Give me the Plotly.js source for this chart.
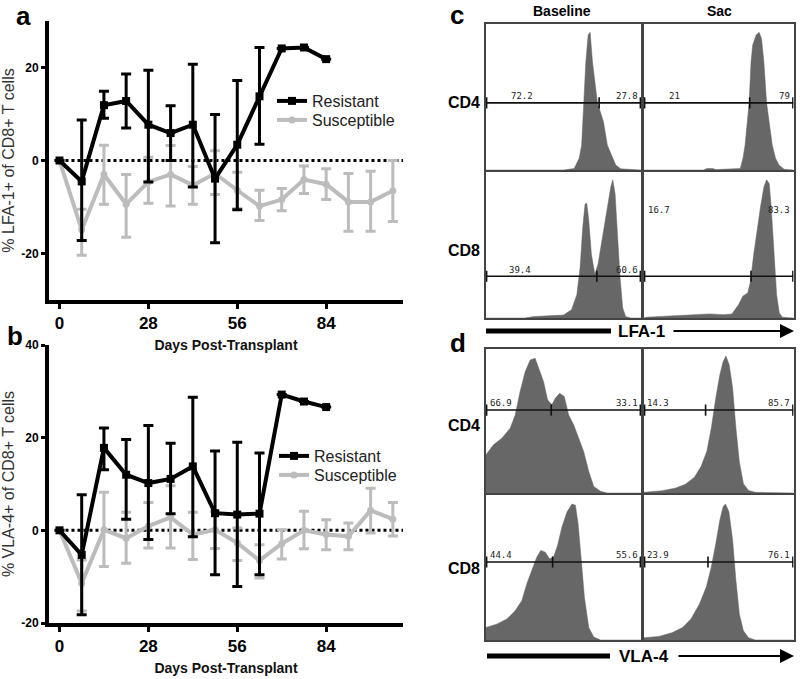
<!DOCTYPE html>
<html>
<head>
<meta charset="utf-8">
<script src="https://cdn.plot.ly/plotly-3.0.1.min.js"></script>
<style>html,body{margin:0;padding:0;background:#fff}#chart{width:800px;height:679px}</style>
</head>
<body>
<div id="chart"></div>
<script>
// ---------------- data: panels a and b ----------------
const daysAll = [0, 7, 14, 21, 28, 35, 42, 49, 56, 63, 70, 77, 84, 91, 98, 105];
const daysRes = [0, 7, 14, 21, 28, 35, 42, 49, 56, 63, 70, 77, 84];
const xTicks = [0, 28, 56, 84];

const lfaResMean = [0, -4.5, 11.9, 12.8, 7.7, 5.9, 7.7, -3.9, 3.4, 13.8, 24.1, 24.3, 21.8];
const lfaResErrPlus = [0, 13.2, 3.0, 5.8, 11.7, 5.9, 13.0, 13.8, 13.8, 10.5, 0, 0, 0];
const lfaResErrMinus = [0, 12.7, 2.8, 5.8, 12.3, 5.9, 13.4, 13.8, 14.0, 10.3, 0, 0, 0];
const lfaSusMean = [0, -14.9, -3.0, -9.4, -4.6, -3.0, -5.3, -2.8, -6.4, -9.8, -8.4, -4.1, -5.1, -8.9, -8.9, -6.5];
const lfaSusErrPlus = [0, 4.4, 6.3, 6.4, 5.3, 6.2, 4.0, 4.9, 3.9, 3.4, 2.4, 2.9, 3.3, 6.1, 6.6, 6.5];
const lfaSusErrMinus = [0, 5.5, 6.4, 7.1, 4.6, 6.8, 4.1, 4.5, 3.9, 3.1, 2.4, 3.0, 3.3, 6.3, 6.3, 6.6];

const vlaResMean = [0, -5.3, 17.8, 12.0, 10.2, 11.1, 13.8, 3.7, 3.4, 3.6, 29.3, 27.8, 26.6];
const vlaResErrPlus = [0, 13.0, 4.3, 7.6, 12.4, 7.7, 14.9, 13.4, 15.6, 13.1, 0, 0, 0];
const vlaResErrMinus = [0, 12.9, 4.7, 9.6, 12.2, 7.5, 15.2, 13.3, 15.5, 13.2, 0, 0, 0];
const vlaSusMean = [0, -11.4, 0.1, -1.7, 0.9, 2.8, -0.9, 0.1, -2.7, -6.5, -2.9, 0, -0.9, -1.3, 4.3, 2.4];
const vlaSusErrPlus = [0, 5.0, 8.1, 5.6, 5.1, 6.8, 4.8, 4.0, 3.2, 3.4, 3.0, 4.1, 3.2, 2.9, 4.8, 3.6];
const vlaSusErrMinus = [0, 6.0, 7.9, 5.4, 4.7, 6.6, 5.4, 4.0, 3.8, 3.8, 3.3, 4.0, 3.3, 2.9, 4.9, 3.6];

// ---------------- data: panels c and d (histograms, % of channel / % of max) ----------------
const lfaCd4BaseX = [0, 50, 56.9, 60.1, 61.7, 63.3, 64.4, 65.9, 67.2, 68.7, 70.4, 71.9, 75.8, 78.3, 83.7, 86.9, 100];
const lfaCd4BaseY = [0, 0, 1, 8, 17, 46, 74, 92.5, 94.3, 74, 58, 46, 33, 17, 3.4, 0.8, 0];
const lfaCd4SacX = [0, 40, 42, 46, 48, 64.4, 66.2, 67.6, 70.3, 71.6, 72.7, 75, 77, 78.6, 80.2, 82, 85.8, 88, 90.3, 93.7, 100];
const lfaCd4SacY = [0, 0, 1, 1, 0.3, 1, 8, 17, 46, 74, 85.6, 92.5, 94.3, 90, 74, 46, 17, 8, 3.4, 0.5, 0];
const lfaCd8BaseX = [0, 25, 31, 50, 55.2, 58.6, 60.7, 62.4, 63.9, 65.0, 66.3, 68.0, 70.2, 72.3, 74.0, 76.2, 78.3, 80.5, 81.8, 83.3, 84.8, 86.5, 88.2, 90.1, 93.3, 100];
const lfaCd8BaseY = [0, 0, 1, 2, 5.7, 16, 34.5, 62, 78, 78.6, 67, 43.7, 29.9, 36.8, 48, 62, 73.6, 89.7, 94.7, 85, 57.5, 27.6, 6.9, 1.1, 0, 0];
const lfaCd8SacX = [0, 1.4, 17, 35, 44, 53, 58.8, 63.3, 66.2, 69.4, 71.2, 73.4, 75.7, 77.9, 80.2, 82.0, 83.8, 85.1, 86.9, 88.7, 90.5, 92.6, 100];
const lfaCd8SacY = [0, 0.5, 1.4, 2.3, 2.8, 2.3, 2.8, 9.2, 15, 17.2, 25, 43.7, 62, 75.9, 89.7, 94.7, 92, 75.9, 46, 16, 3.4, 0.5, 0];
const vlaCd4BaseX = [0, 4.8, 10.2, 15.6, 18.8, 22.0, 25.3, 28.5, 31.7, 34.6, 37.1, 39.7, 42.5, 44.7, 47.5, 50.5, 53.3, 56.6, 59.8, 63.0, 66.3, 69.5, 73.9, 78.2, 100];
const vlaCd4BaseY = [26.6, 33.5, 38, 45, 54, 70.4, 84.3, 92.4, 93.5, 85.5, 77.4, 64.7, 61.2, 65.8, 69.3, 67, 54.3, 47.3, 38, 28.9, 15, 4.6, 1.2, 0, 0];
const vlaCd4SacX = [0, 12.2, 21.3, 28, 33.7, 38.2, 42, 45, 48, 50.7, 52.9, 54.8, 57, 59.3, 61.5, 63.8, 66.5, 69.9, 74.4, 100];
const vlaCd4SacY = [0.5, 1.6, 3.5, 6.2, 10.9, 18.5, 28.9, 45, 65.8, 82, 91.2, 95.2, 89, 72.7, 45, 21.5, 6.5, 1.8, 0.5, 0];
const vlaCd8BaseX = [0, 6.9, 13.4, 18.8, 23.1, 26.3, 29.5, 32.8, 35.4, 38.2, 41.0, 43.6, 46.2, 49.0, 52.3, 55.5, 57.7, 59.4, 61.3, 63.5, 66.3, 69.5, 73.9, 100];
const vlaCd8BaseY = [8.6, 10.9, 14.4, 20.1, 27.1, 38.7, 47.9, 57.2, 61.8, 60.6, 56, 57.2, 65.3, 78, 88.4, 93.8, 93, 80.3, 57.2, 29.4, 8.6, 2.1, 0, 0];
const vlaCd8SacX = [0, 10, 19, 25.8, 31.4, 37.1, 41.6, 45, 48, 50.7, 52.9, 54.5, 56.8, 59.3, 61.5, 63.8, 66.5, 69.9, 74.4, 100];
const vlaCd8SacY = [1.6, 2.5, 5.1, 8.6, 14.4, 24.8, 36.3, 50.2, 66.4, 82.6, 91.9, 93.8, 88.4, 68.8, 41, 17.8, 6.3, 1.6, 0, 0];

// gate percentages, order: LFA CD4 base, LFA CD4 sac, LFA CD8 base, LFA CD8 sac, VLA CD4 base, VLA CD4 sac, VLA CD8 base, VLA CD8 sac
const gateLeftPct = ['72.2', '21', '39.4', '16.7', '66.9', '14.3', '44.4', '23.9'];
const gateRightPct = ['27.8', '79', '60.6', '83.3', '33.1', '85.7', '55.6', '76.1'];
const gateSplit = [73, 70.7, 71.5, 71.6, 42.1, 41.2, 43, 42.8];
const gateLevel = [46, 46, 28.6, 28.6, 57.6, 57.6, 53.8, 53.8];

// ---------------- styling ----------------
const F = 'Liberation Sans, Arial, Helvetica, sans-serif';
const BLACK = '#000000';
const GRAY = '#bcbcbc';
const HIST = '#676767';
const px = v => v / 800;
const py = v => 1 - v / 679;

const traces = [];
function groupTraces(xa, ya, legRes, legSus, susMean, susP, susM, resMean, resP, resM) {
  traces.push({
    x: daysAll, y: susMean, xaxis: xa, yaxis: ya, type: 'scatter', mode: 'lines+markers',
    name: 'Susceptible', legend: legSus, showlegend: true,
    line: {color: GRAY, width: 4}, marker: {color: GRAY, size: 7, symbol: 'circle'},
    error_y: {type: 'data', array: susP, arrayminus: susM, symmetric: false, color: GRAY, thickness: 3, width: 5}
  });
  traces.push({
    x: daysRes, y: resMean, xaxis: xa, yaxis: ya, type: 'scatter', mode: 'lines+markers',
    name: 'Resistant', legend: legRes, showlegend: true,
    line: {color: BLACK, width: 4}, marker: {color: BLACK, size: 8, symbol: 'square'},
    error_y: {type: 'data', array: resP, arrayminus: resM, symmetric: false, color: BLACK, thickness: 3, width: 5}
  });
}
groupTraces('x', 'y', 'legend', 'legend3', lfaSusMean, lfaSusErrPlus, lfaSusErrMinus, lfaResMean, lfaResErrPlus, lfaResErrMinus);
groupTraces('x2', 'y2', 'legend2', 'legend4', vlaSusMean, vlaSusErrPlus, vlaSusErrMinus, vlaResMean, vlaResErrPlus, vlaResErrMinus);

// histogram cells
const histX = [lfaCd4BaseX, lfaCd4SacX, lfaCd8BaseX, lfaCd8SacX, vlaCd4BaseX, vlaCd4SacX, vlaCd8BaseX, vlaCd8SacX];
const histY = [lfaCd4BaseY, lfaCd4SacY, lfaCd8BaseY, lfaCd8SacY, vlaCd4BaseY, vlaCd4SacY, vlaCd8BaseY, vlaCd8SacY];
const colDom = [[486 / 800, 641 / 800], [644 / 800, 793.5 / 800]];
const rowDom = [[py(170), py(24)], [py(318), py(172)], [py(493), py(349)], [py(640), py(495)]];
// label placement per cell: [leftX, leftAnchor, labelY]
const labelPos = [
  [23, 'center', 50.7], [20.5, 'center', 50.7],
  [21.9, 'center', 33], [1.2, 'left', 73.8],
  [1, 'left', 62.3], [1, 'left', 62.3],
  [1, 'left', 58.4], [1, 'left', 58.4]
];

const legFont = {family: F, size: 16, color: '#222'};
function leg(x, y) {
  return {x: px(x), y: py(y), xanchor: 'left', yanchor: 'top', bgcolor: 'rgba(0,0,0,0)', font: legFont, itemwidth: 30};
}
const layout = {
  width: 800, height: 679, margin: {l: 0, r: 0, t: 0, b: 0},
  paper_bgcolor: '#fff', plot_bgcolor: 'rgba(0,0,0,0)',
  font: {family: F, color: '#000'},
  showlegend: true,
  legend: leg(272, 84), legend3: leg(272, 103),
  legend2: leg(274, 439), legend4: leg(274, 458),
  shapes: [], annotations: []
};

function lineAxes(xName, yName, xAnchor, yAnchor, yDom, yRange, yTicks, ytitle) {
  layout[xName] = {
    domain: [px(49), px(403)], range: [-3.3, 108.2], anchor: yAnchor,
    showline: true, linecolor: '#000', linewidth: 4, showgrid: false, zeroline: false,
    ticks: 'outside', ticklen: 5, tickwidth: 3, tickcolor: '#000',
    tickvals: xTicks, ticktext: xTicks.map(String),
    tickfont: {family: F, size: 17, weight: 700, color: '#000'},
    title: {text: 'Days Post-Transplant', font: {family: F, size: 14, weight: 700, color: '#111'}, standoff: 9}
  };
  layout[yName] = {
    domain: yDom, range: yRange, anchor: xAnchor, showline: true, linecolor: '#000', linewidth: 4,
    showgrid: false, zeroline: false,
    ticks: 'outside', ticklen: 4, tickwidth: 3, tickcolor: '#000',
    tickvals: yTicks, ticktext: yTicks.map(String),
    tickfont: {family: F, size: 12, weight: 700, color: '#000'},
    title: {text: ytitle, font: {family: F, size: 16, color: '#333'}, standoff: 6}
  };
}
lineAxes('xaxis', 'yaxis', 'x', 'y', [py(300), py(21)], [-30, 30], [-20, 0, 20], '% LFA-1+ of CD8+ T cells');
lineAxes('xaxis2', 'yaxis2', 'x2', 'y2', [py(623), py(345)], [-20, 40], [-20, 0, 20, 40], '% VLA-4+ of CD8+ T cells');

// dotted zero lines
[['x', 'y'], ['x2', 'y2']].forEach(([xa, ya]) => {
  layout.shapes.push({type: 'line', xref: xa, yref: ya, x0: 0, x1: 108.2, y0: 0, y1: 0,
    line: {color: '#000', width: 3, dash: 'dot'}, layer: 'below'});
});

const monoFont = {family: 'DejaVu Sans Mono, monospace', size: 9, color: '#222'};
for (let i = 0; i < 8; i++) {
  const n = i + 3;
  const xa = 'x' + n, ya = 'y' + n;
  const col = i % 2, row = Math.floor(i / 2);
  layout['xaxis' + n] = {domain: colDom[col], range: [0, 100], anchor: ya, showline: true, mirror: true,
    linecolor: '#444', linewidth: 2, showgrid: false, zeroline: false, showticklabels: false, ticks: ''};
  layout['yaxis' + n] = {domain: rowDom[row], range: [0, 100], anchor: xa, showline: true, mirror: true,
    linecolor: '#444', linewidth: 2, showgrid: false, zeroline: false, showticklabels: false, ticks: ''};
  traces.push({x: histX[i], y: histY[i], xaxis: xa, yaxis: ya, type: 'scatter', mode: 'lines',
    fill: 'tozeroy', fillcolor: HIST, line: {color: HIST, width: 0.5}, showlegend: false, hoverinfo: 'skip'});
  // gate line with end and split ticks
  traces.push({x: [0, 100], y: [gateLevel[i], gateLevel[i]], xaxis: xa, yaxis: ya, type: 'scatter', mode: 'lines',
    line: {color: '#111', width: 1.6}, showlegend: false, hoverinfo: 'skip'});
  traces.push({x: [0.4, gateSplit[i], 99.6], y: [gateLevel[i], gateLevel[i], gateLevel[i]], xaxis: xa, yaxis: ya,
    type: 'scatter', mode: 'markers',
    marker: {symbol: 'line-ns-open', size: 8, color: '#111', line: {color: '#111', width: 1.6}},
    showlegend: false, hoverinfo: 'skip'});
  const lp = labelPos[i];
  layout.annotations.push({xref: xa, yref: ya, x: lp[0], y: lp[2], xanchor: lp[1], yanchor: 'middle',
    text: gateLeftPct[i], showarrow: false, font: monoFont});
  layout.annotations.push({xref: xa, yref: ya, x: 99.3, y: lp[2], xanchor: 'right', yanchor: 'middle',
    text: gateRightPct[i], showarrow: false, font: monoFont});
}

function paperText(text, x, y, size, weight, extra) {
  layout.annotations.push(Object.assign({xref: 'paper', yref: 'paper', x: px(x), y: py(y), xanchor: 'center', yanchor: 'middle',
    text: text, showarrow: false, font: {family: F, size: size, weight: weight, color: '#000'}}, extra || {}));
}
paperText('a', 23, 16, 26, 700);
paperText('b', 15, 336, 26, 700);
paperText('c', 457, 15, 26, 700);
paperText('d', 458, 343, 26, 700);
paperText('Baseline', 562, 11, 14, 700);
paperText('Sac', 719, 11, 14, 700);
paperText('CD4', 463.5, 102, 16, 700);
paperText('CD8', 463.5, 250, 16, 700);
paperText('CD4', 463.5, 425, 16, 700);
paperText('CD8', 463.5, 568, 16, 700);
paperText('LFA-1', 641.5, 331, 17, 700, {bgcolor: '#fff'});
paperText('VLA-4', 644, 656, 17, 700, {bgcolor: '#fff'});

// marker-axis arrows
[[331, 486, 611, 672], [656, 487, 610, 677]].forEach(([y, a0, a1, b0]) => {
  layout.shapes.push({type: 'line', xref: 'paper', yref: 'paper', x0: px(a0), x1: px(a1), y0: py(y), y1: py(y),
    line: {color: '#000', width: 5}});
  layout.annotations.push({xref: 'paper', yref: 'paper', x: px(794), y: py(y), ax: px(b0), ay: py(y),
    axref: 'paper', ayref: 'paper', text: '', showarrow: true, arrowhead: 2, arrowsize: 1.4, arrowwidth: 2, arrowcolor: '#000'});
});

Plotly.newPlot('chart', traces, layout, {displayModeBar: false, staticPlot: true});
</script>
</body>
</html>
